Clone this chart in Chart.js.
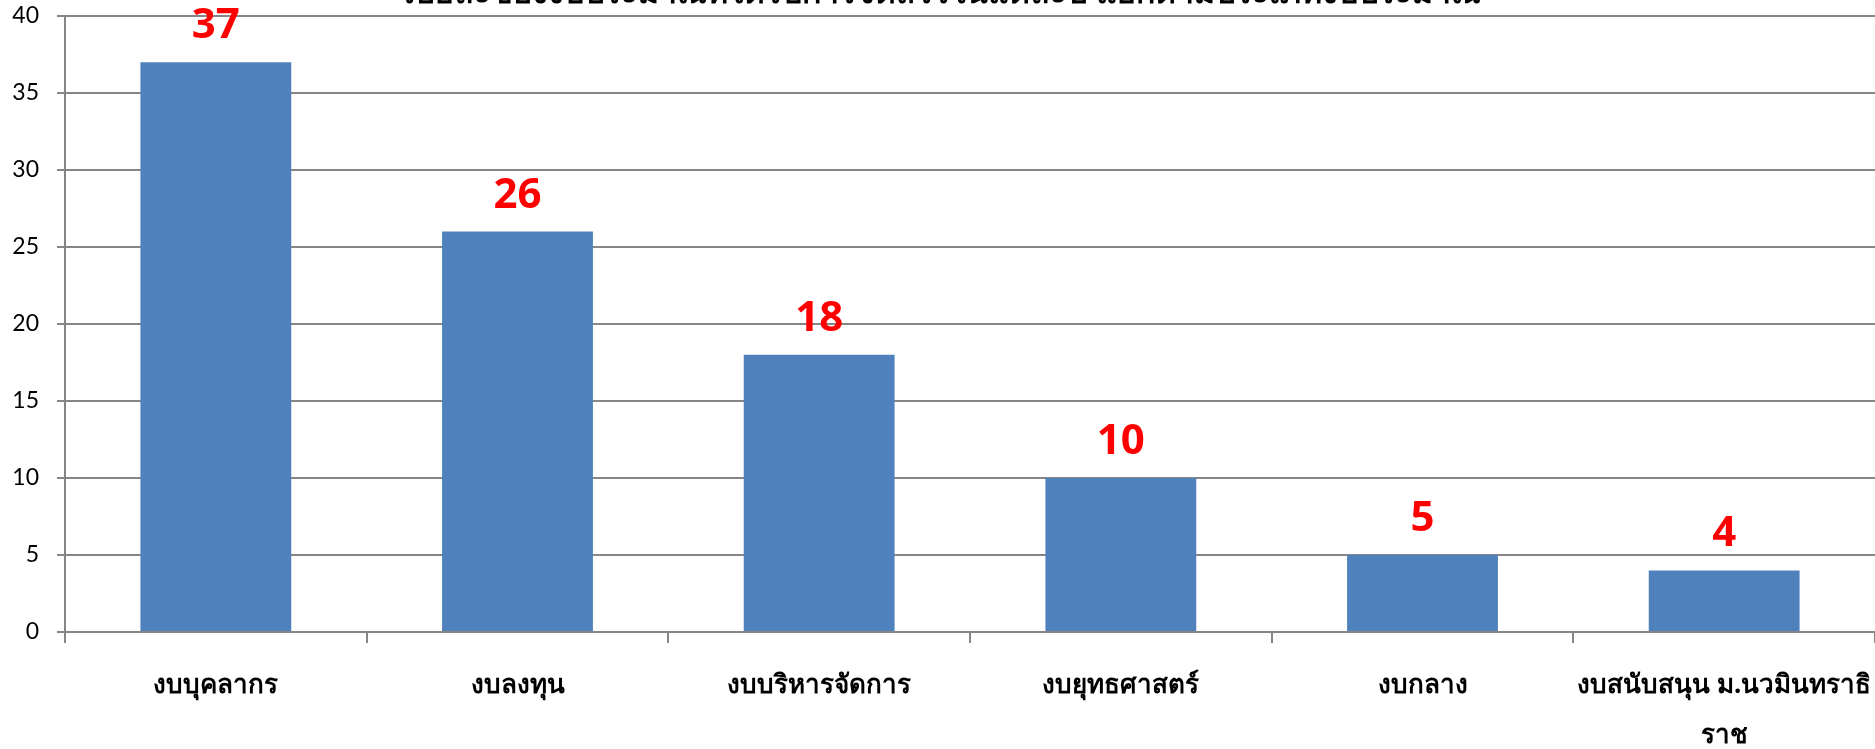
<!DOCTYPE html>
<html>
<head>
<meta charset="utf-8">
<script src="https://cdn.jsdelivr.net/npm/chart.js@4.4.0/dist/chart.umd.min.js"></script>
<style>
  html, body { margin: 0; padding: 0; background: #fff; }
  #wrap { width: 1875px; height: 749px; }
</style>
</head>
<body>
<div id="wrap"><canvas id="chart"></canvas></div>
<script>
// ข้อมูลจากภาพ
const titleText = "ร้อยละของงบประมาณที่ได้รับการจัดสรรในแต่ละปี แยกตามประเภทงบประมาณ";
const categories = [
  "งบบุคลากร",
  "งบลงทุน",
  "งบบริหารจัดการ",
  "งบยุทธศาสตร์",
  "งบกลาง",
  ["งบสนับสนุน ม.นวมินทราธิ", "ราช"]
];
const values = [37, 26, 18, 10, 5, 4];
const yTicks = [0, 5, 10, 15, 20, 25, 30, 35, 40];

const gridColor = "#868686";

// ตัวเลขสีแดงบนแท่ง
const valueLabels = {
  id: "valueLabels",
  afterDatasetsDraw(chart) {
    const ctx = chart.ctx;
    const meta = chart.getDatasetMeta(0);
    ctx.save();
    ctx.fillStyle = "#ff0000";
    ctx.font = "bold 42px 'Open Sans'";
    ctx.textAlign = "center";
    ctx.textBaseline = "alphabetic";
    meta.data.forEach((bar, i) => {
      ctx.fillText(String(values[i]), bar.x, bar.y - 24);
    });
    ctx.restore();
  }
};

// หัวเรื่อง (ถูกตัดขอบบน)
const topTitle = {
  id: "topTitle",
  afterDraw(chart) {
    const ctx = chart.ctx;
    ctx.save();
    ctx.fillStyle = "#000";
    ctx.font = "bold 32px 'Noto Sans', sans-serif";
    ctx.textAlign = "center";
    ctx.textBaseline = "alphabetic";
    ctx.fillText(titleText, 940, 3);
    ctx.restore();
  }
};

new Chart(document.getElementById("chart"), {
  type: "bar",
  data: {
    labels: categories,
    datasets: [{
      data: values,
      backgroundColor: "#4f81bd",
      borderWidth: 0,
      barPercentage: 0.5,
      categoryPercentage: 1.0
    }]
  },
  options: {
    responsive: true,
    maintainAspectRatio: false,
    animation: false,
    layout: { padding: { top: 16, right: 0, left: 0, bottom: 0 } },
    plugins: {
      legend: { display: false },
      tooltip: { enabled: false }
    },
    scales: {
      x: {
        grid: {
          display: true,
          drawOnChartArea: false,
          drawTicks: true,
          tickLength: 11,
          color: gridColor,
          lineWidth: 2,
          offset: true
        },
        border: { display: true, color: gridColor, width: 2 },
        ticks: {
          color: "#000",
          font: { family: "'Noto Sans', sans-serif", size: 26, weight: "bold", lineHeight: 1.9 },
          padding: 18,
          maxRotation: 0,
          autoSkip: false
        },
        afterFit(scale) {
          scale.height = 117;
          scale.paddingLeft = 0;
          scale.paddingRight = 0;
        }
      },
      y: {
        min: 0,
        max: 40,
        afterBuildTicks(scale) { scale.ticks = yTicks.map(v => ({ value: v })); },
        grid: {
          color: gridColor,
          lineWidth: 2,
          drawTicks: true,
          tickLength: 8
        },
        border: { display: true, color: gridColor, width: 2 },
        ticks: {
          color: "#000",
          font: { family: "Lato", size: 23 },
          padding: 18
        },
        afterFit(scale) {
          scale.width = 65;
          scale.paddingTop = 0;
          scale.paddingBottom = 0;
        }
      }
    }
  },
  plugins: [valueLabels, topTitle]
});
</script>
</body>
</html>
